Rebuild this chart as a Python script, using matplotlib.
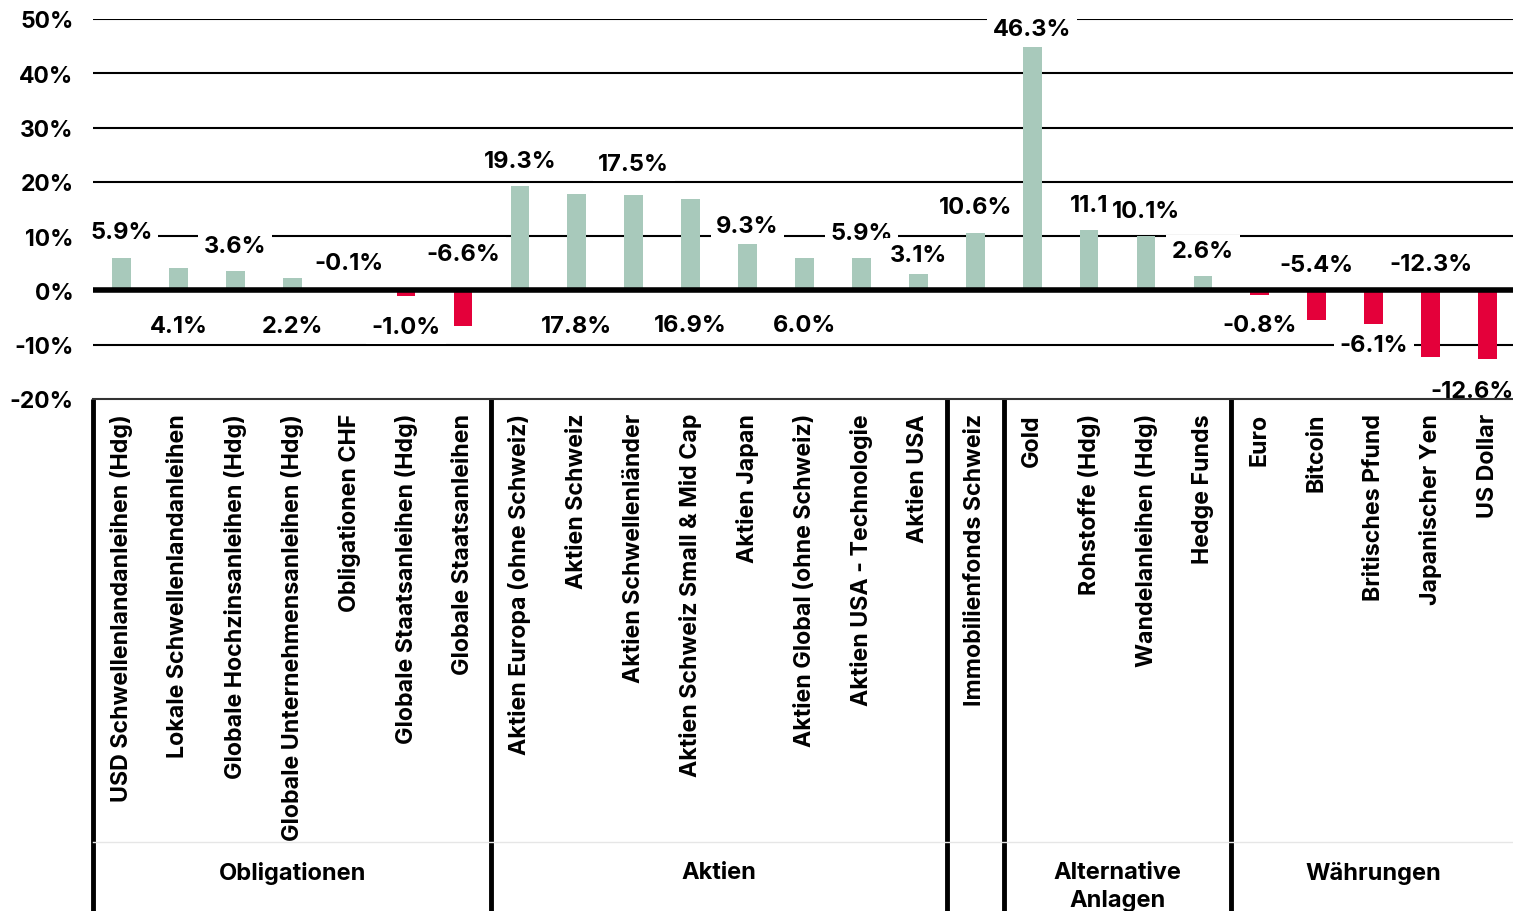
import matplotlib.pyplot as plt
import matplotlib.transforms as mtransforms
import numpy as np

plt.rcParams['font.family'] = ['Inter', 'DejaVu Sans']
plt.rcParams['font.weight'] = 'bold'

# Daten
categories = [
    "USD Schwellenlandanleihen (Hdg)", "Lokale Schwellenlandanleihen",
    "Globale Hochzinsanleihen (Hdg)", "Globale Unternehmensanleihen (Hdg)",
    "Obligationen CHF", "Globale Staatsanleihen (Hdg)", "Globale Staatsanleihen",
    "Aktien Europa (ohne Schweiz)", "Aktien Schweiz", "Aktien Schwellenländer",
    "Aktien Schweiz Small & Mid Cap", "Aktien Japan", "Aktien Global (ohne Schweiz)",
    "Aktien USA - Technologie", "Aktien USA",
    "Immobilienfonds Schweiz",
    "Gold", "Rohstoffe (Hdg)", "Wandelanleihen (Hdg)", "Hedge Funds",
    "Euro", "Bitcoin", "Britisches Pfund", "Japanischer Yen", "US Dollar",
]
bar_values = [5.9, 4.1, 3.6, 2.2, -0.1, -1.0, -6.6,
              19.3, 17.8, 17.5, 16.9, 8.5, 6.0, 5.9, 3.1,
              10.6,
              44.8, 11.1, 10.1, 2.6,
              -0.8, -5.4, -6.1, -12.3, -12.6]
value_labels = ["5.9%", "4.1%", "3.6%", "2.2%", "-0.1%", "-1.0%", "-6.6%",
                "19.3%", "17.8%", "17.5%", "16.9%", "9.3%", "6.0%", "5.9%", "3.1%",
                "10.6%",
                "46.3%", "11.1", "10.1%", "2.6%",
                "-0.8%", "-5.4%", "-6.1%", "-12.3%", "-12.6%"]
# Position der Wertbeschriftungen (in %)
label_y = [10.7, -6.6, 8.1, -6.6, 5.0, -6.8, 6.8,
           23.9, -6.6, 23.2, -6.4, 11.8, -6.4, 10.5, 6.6,
           15.3,
           48.1, 15.7, 14.7, 7.2,
           -6.4, 4.6, -10.1, 4.8, -18.6]
groups = ["Obligationen", "Aktien", "", "Alternative\nAnlagen", "Währungen"]
group_sizes = [7, 8, 1, 4, 5]

green = "#a8c9bb"
red = "#e4003a"

W, H = 1513, 912
fig = plt.figure(figsize=(W / 100, H / 100), dpi=100)
ax = fig.add_axes([93 / W, 1 - 400 / H, 1423 / W, 380 / H])

x = np.arange(len(categories))
colors = [green if v >= 0 else red for v in bar_values]
ax.bar(x, bar_values, width=0.33, color=colors, zorder=3)

ax.set_xlim(-0.5, len(categories) - 0.5)
ax.set_ylim(-20, 50)

# Gitterlinien
for t in range(-10, 51, 10):
    if t == 0:
        continue
    ax.axhline(t, color="black", lw=1.5, zorder=1)
ax.axhline(0, color="black", lw=4, zorder=4)

for s in ["top", "right", "left"]:
    ax.spines[s].set_visible(False)
ax.spines["bottom"].set_color("#333333")
ax.spines["bottom"].set_linewidth(1.5)

ax.set_yticks(range(-20, 51, 10))
ax.set_yticklabels([f"{t}%" for t in range(-20, 51, 10)], fontsize=16.5, fontweight="bold")
ax.tick_params(axis="y", length=0, pad=14)

ax.set_xticks(x)
ax.set_xticklabels(categories, rotation=90, fontsize=16.7, fontweight="bold", va="top")
ax.tick_params(axis="x", length=0, pad=10)

# Wertbeschriftungen
n = len(categories)
for i, (lab, ly) in enumerate(zip(value_labels, label_y)):
    if i == n - 1:
        xi, ha = n - 0.55, "right"
    else:
        xi, ha = i, "center"
    ax.text(xi, ly, lab, ha=ha, va="center", fontsize=17, fontweight="bold",
            zorder=2.5, bbox=dict(facecolor="white", edgecolor="none", pad=4))

# Gruppentrenner und Gruppennamen
trans = mtransforms.blended_transform_factory(ax.transData, ax.transAxes)
bottom = -(912 - 400) / 380
start = 0
bounds = [-0.5]
for g, k in zip(groups, group_sizes):
    end = start + k
    bounds.append(end - 0.5)
    if g:
        ax.text((start + end - 1) / 2, -1.215, g, transform=trans, ha="center", va="top",
                fontsize=17, fontweight="bold", linespacing=1.35)
    start = end
for b in bounds[:-1]:
    ax.plot([b, b], [0, bottom], transform=trans, color="black", lw=3.5,
            clip_on=False, solid_capstyle="butt")
ax.plot([-0.5, n - 0.5], [-1.166, -1.166], transform=trans,
        color="#e6e6e6", lw=1, clip_on=False)

fig.savefig("out.png", dpi=100)
